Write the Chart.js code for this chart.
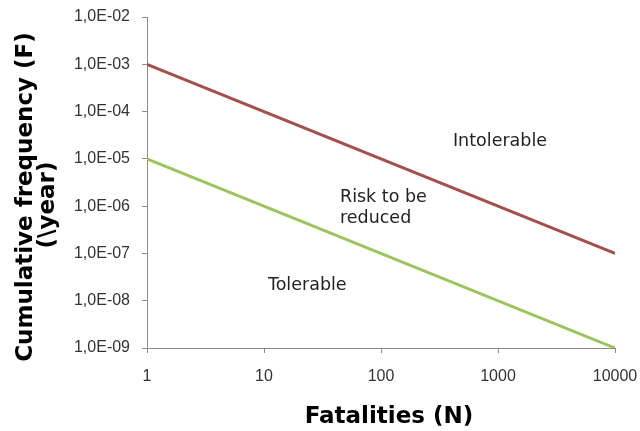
<!DOCTYPE html>
<html>
<head>
<meta charset="utf-8">
<style>
html,body{margin:0;padding:0;background:#fff;}
#wrap{width:640px;height:431px;position:relative;}
</style>
<script src="https://cdn.jsdelivr.net/npm/chart.js@4.4.0/dist/chart.umd.min.js"></script>
</head>
<body>
<div id="wrap"><canvas id="c" width="640" height="431"></canvas></div>
<script>
const fatalities = [1, 10000];
const intolerableLimit = [1e-3, 1e-7];
const tolerableLimit = [1e-5, 1e-9];
const xTicks = [1, 10, 100, 1000, 10000];
const yTicks = [1e-9, 1e-8, 1e-7, 1e-6, 1e-5, 1e-4, 1e-3, 1e-2];
const xTitle = 'Fatalities (N)';
const yTitle = ['Cumulative frequency (F)', '(\\year)'];
const regionLabels = [
  {lines: ["Intolerable"], x: 412, y: 2.38e-5},
  {lines: ["Risk to be", "reduced"], x: 44.6, y: 1.56e-6},
  {lines: ["Tolerable"], x: 10.8, y: 2.15e-8}
];

function fmtY(v){
  const e = Math.round(Math.log10(v));
  const s = Math.abs(e) < 10 ? '0' + Math.abs(e) : '' + Math.abs(e);
  return '1,0E' + (e < 0 ? '-' : '+') + s;
}

const labelPlugin = {
  id: 'regionLabels',
  afterDatasetsDraw(chart){
    const ctx = chart.ctx, xs = chart.scales.x, ys = chart.scales.y;
    ctx.save();
    ctx.font = '17.5px "DejaVu Sans"';
    ctx.fillStyle = '#222';
    ctx.textAlign = 'left';
    ctx.textBaseline = 'middle';
    regionLabels.forEach(l => {
      const px = xs.getPixelForValue(l.x), py = ys.getPixelForValue(l.y);
      l.lines.forEach((t, i) => ctx.fillText(t, px, py + i * 21));
    });
    // axis titles
    ctx.font = 'bold 23px "DejaVu Sans"';
    ctx.fillStyle = '#000';
    ctx.textAlign = 'center';
    ctx.textBaseline = 'alphabetic';
    ctx.fillText(xTitle, 389, 423);
    ctx.save();
    ctx.translate(0, 197);
    ctx.rotate(-Math.PI / 2);
    ctx.fillText(yTitle[0], 0, 32);
    ctx.restore();
    ctx.save();
    ctx.translate(0, 205);
    ctx.rotate(-Math.PI / 2);
    ctx.fillText(yTitle[1], 0, 54);
    ctx.restore();
    ctx.restore();
  }
};

new Chart(document.getElementById('c'), {
  type: 'line',
  data: {
    labels: fatalities,
    datasets: [
      {data: fatalities.map((x, i) => ({x, y: intolerableLimit[i]})), borderColor: '#A54F4B', borderWidth: 3, pointRadius: 0, tension: 0},
      {data: fatalities.map((x, i) => ({x, y: tolerableLimit[i]})), borderColor: '#9BC55A', borderWidth: 3, pointRadius: 0, tension: 0}
    ]
  },
  options: {
    responsive: false,
    animation: false,
    layout: {padding: {left: 0, right: 25, top: 17, bottom: 0}},
    plugins: {legend: {display: false}, tooltip: {enabled: false}},
    scales: {
      x: {
        type: 'logarithmic', min: 1, max: 10000,
        afterBuildTicks: s => { s.ticks = xTicks.map(v => ({value: v})); },
        afterFit: s => { s.height = 431 - 348; s.paddingLeft = 0; s.paddingRight = 0; },
        border: {color: '#8c8c8c', width: 1},
        grid: {drawOnChartArea: false, tickLength: 5, color: '#8c8c8c'},
        ticks: {callback: v => '' + v, font: {family: '"Liberation Sans", Arial', size: 16}, color: '#333', padding: 14, maxRotation: 0, autoSkip: false},
        title: {display: false}
      },
      y: {
        type: 'logarithmic', min: 1e-9, max: 1e-2,
        afterBuildTicks: s => { s.ticks = yTicks.map(v => ({value: v})); },
        afterFit: s => { s.width = 147; s.paddingTop = 0; s.paddingBottom = 0; },
        border: {color: '#8c8c8c', width: 1},
        grid: {drawOnChartArea: false, tickLength: 5, color: '#8c8c8c'},
        ticks: {callback: v => fmtY(v), font: {family: '"Liberation Sans", Arial', size: 16}, color: '#333', padding: 12, autoSkip: false},
        title: {display: false}
      }
    }
  },
  plugins: [labelPlugin]
});
</script>
</body>
</html>
